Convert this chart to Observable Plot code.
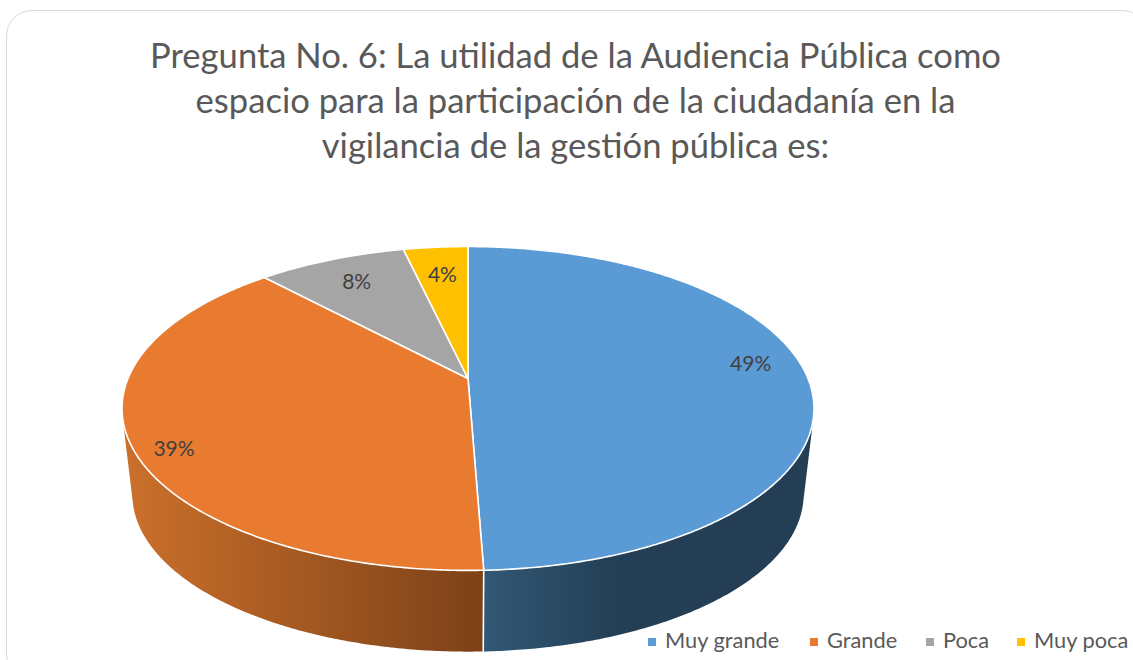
<!DOCTYPE html>
<html lang="es">
<head>
<meta charset="utf-8">
<script src="https://cdn.jsdelivr.net/npm/d3@7"></script>
<script src="https://cdn.jsdelivr.net/npm/@observablehq/plot@0.6"></script>
<style>
  html, body { margin: 0; padding: 0; background: #fff; overflow: hidden; }
  #page { position: relative; width: 1133px; height: 660px; overflow: hidden; font-family: Lato, sans-serif; }
  #card { position: absolute; left: 6px; top: 10px; width: 1142px; height: 670px; box-sizing: border-box;
          border: 1.5px solid #d9d9d9; border-radius: 26px; }
  #title { position: absolute; left: 0; top: 32px; width: 1151px; text-align: center; color: #595959;
           font-size: 34.6px; line-height: 45px; font-weight: 400; margin: 0; }
  #legend { position: absolute; top: 626px; left: 648px; color: #595959; font-size: 21.8px; line-height: 28px; white-space: nowrap; }
  #legend span.item { position: absolute; top: 0; }
  #legend i { position: absolute; left: 0; top: 12px; width: 8px; height: 8px; }
  #legend b { position: absolute; left: 17px; top: 0; font-weight: 400; }
  #chart { position: absolute; left: 0; top: 0; }
  #chart svg { display: block; background: transparent; }
</style>
</head>
<body>
<div id="page">
  <div id="card"></div>
  <div id="chart"></div>
  <h1 id="title"></h1>
  <div id="legend"></div>
</div>
<script>
// ---- data ----
const titleLines = [
  "Pregunta No. 6: La utilidad de la Audiencia Pública como",
  "espacio para la participación de la ciudadanía en la",
  "vigilancia de la gestión pública es:"
];
const categories = ["Muy grande", "Grande", "Poca", "Muy poca"];
const shares = [49.4, 38.7, 8.3, 3.6];
const percentLabels = ["49%", "39%", "8%", "4%"];

// ---- styles ----
const colors = ["#5B9BD5", "#E97B31", "#A5A5A5", "#FFC000"];
const legendOffsets = [0, 162, 278, 369];

// ---- layout of the tilted disc ----
const W = 1133, H = 660;
const disc = {cx: 467.5, cy: 378, a: 340, b: 156.4, k: 0.185, depthY: 87, shrink: 0.97};
const labelRadius = [0.85, 0.90, 0.79, 0.76];
const labelTurn = [-5, -5, 0, 0];

// projects an angle (degrees clockwise from the top) and radius onto the disc
function project(deg, r = 1, bottom = false) {
  const t = deg * Math.PI / 180;
  const u = r * Math.sin(t), v = -r * Math.cos(t);
  const w = 1 - disc.k * v;
  const s = bottom ? disc.shrink : 1;
  return {
    x: disc.cx + s * disc.a * u / w,
    y: disc.cy + (bottom ? disc.depthY : 0) + s * disc.b * v / w
  };
}

// wedges
let acc = 0;
const wedges = shares.map((share, i) => {
  const start = acc / 100 * 360;
  acc += share;
  return {i, name: categories[i], start, end: acc / 100 * 360, color: colors[i], label: percentLabels[i]};
});

const topPoly = wedges.flatMap(d => {
  const pts = [{...project(0, 0), id: d.name, color: d.color}];
  for (let a = d.start; a < d.end; a += 0.5) pts.push({...project(a), id: d.name, color: d.color});
  pts.push({...project(d.end), id: d.name, color: d.color});
  return pts;
});

// the rim angle where the wall turns edge-on, walking away from the front of the disc
function edgeOn(step) {
  const facing = a => {
    const t = project(a), n = project(a + 0.25), b = project(a, 1, true);
    return (b.x - t.x) * (n.y - t.y) - (b.y - t.y) * (n.x - t.x);
  };
  const sign = Math.sign(facing(180));
  let a = 180;
  while (Math.sign(facing(a + step)) === sign && Math.abs(a - 180) < 170) a += step;
  return a;
}

// side walls: one outline, top rim one way and bottom rim back
function wall(from, to) {
  const pts = [];
  for (let a = from; a < to; a += 0.5) pts.push(project(a));
  pts.push(project(to));
  for (let a = to; a > from; a -= 0.5) pts.push(project(a, 1, true));
  pts.push(project(from, 1, true));
  return pts;
}
const blueWall = wall(edgeOn(-0.25), wedges[0].end);
const orangeWall = wall(wedges[1].start, edgeOn(0.25));
const seam = [project(wedges[1].start), project(wedges[1].start, 1, true)];

const labels = wedges.map(d => {
  const mid = (d.start + d.end) / 2 + labelTurn[d.i];
  return {...project(mid, labelRadius[d.i]), label: d.label};
});

// horizontal gradients for the walls, in the chart's own scale
function gradients(index, {x}) {
  const defs = d3.create("svg:defs");
  const add = (id, x1, x2, stops) => {
    const g = defs.append("linearGradient").attr("id", id).attr("gradientUnits", "userSpaceOnUse")
      .attr("x1", x(x1)).attr("x2", x(x2)).attr("y1", 0).attr("y2", 0);
    stops.forEach(([o, c]) => g.append("stop").attr("offset", o).attr("stop-color", c));
  };
  add("wallOrange", 122, 483, [[0, "#CC702B"], [1, "#7C4118"]]);
  add("wallBlue", 483, 620, [[0, "#315875"], [1, "#233E55"]]);
  return defs.node();
}

const chart = Plot.plot({
  width: W, height: H,
  margin: 0,
  x: {domain: [0, W], range: [0, W], axis: null},
  y: {domain: [0, H], range: [0, H], axis: null},
  color: {type: "identity"},
  marks: [
    gradients,
    Plot.line(blueWall, {x: "x", y: "y", fill: "url(#wallBlue)", stroke: "none", curve: "linear-closed"}),
    Plot.line(orangeWall, {x: "x", y: "y", fill: "url(#wallOrange)", stroke: "none", curve: "linear-closed"}),
    Plot.line(seam, {x: "x", y: "y", stroke: "#fff", strokeWidth: 1.6}),
    Plot.line(topPoly, {x: "x", y: "y", z: "id", fill: "color", stroke: "#fff", strokeWidth: 1.6, strokeLinejoin: "round", curve: "linear-closed"}),
    Plot.text(labels, {x: "x", y: "y", text: "label", fill: "#404040", fontSize: 21, fontFamily: "Lato, sans-serif", textAnchor: "middle"})
  ]
});
document.getElementById("chart").appendChild(chart);

document.getElementById("title").innerHTML = titleLines.join("<br>");
const legend = document.getElementById("legend");
categories.forEach((name, i) => {
  const item = document.createElement("span");
  item.className = "item";
  item.style.left = legendOffsets[i] + "px";
  const sw = document.createElement("i");
  sw.style.background = colors[i];
  const tx = document.createElement("b");
  tx.textContent = name;
  item.append(sw, tx);
  legend.append(item);
});
</script>
</body>
</html>
